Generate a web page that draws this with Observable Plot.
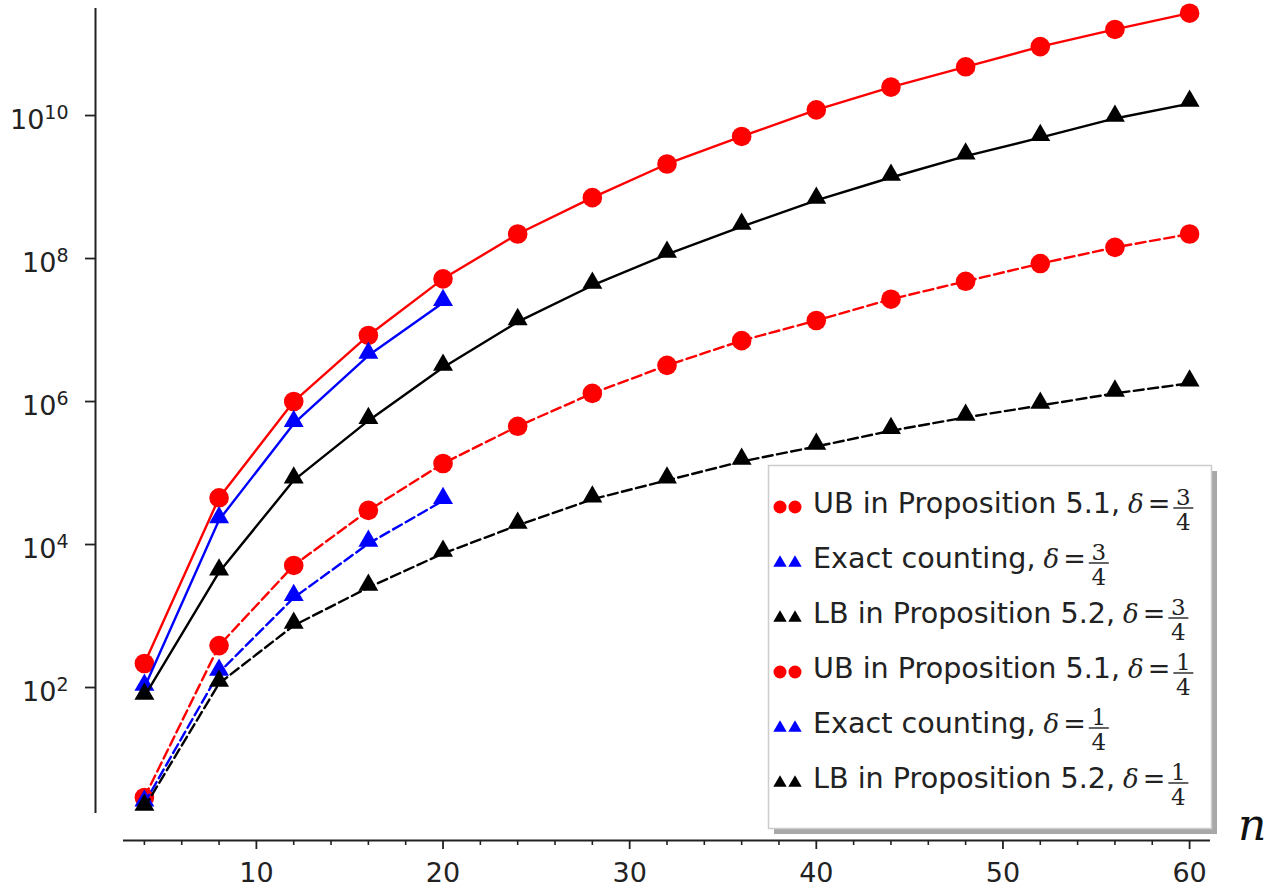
<!DOCTYPE html>
<html><head><meta charset="utf-8">
<script src="https://cdn.jsdelivr.net/npm/d3@7"></script>
<script src="https://cdn.jsdelivr.net/npm/@observablehq/plot@0.6"></script>
<style>
html,body{margin:0;padding:0;background:#fff;}
#chart{position:relative;width:1280px;height:890px;overflow:hidden;}
</style></head><body><div id="chart"></div>
<script>
// ---- data ----
const nAll = [4, 8, 12, 16, 20, 24, 28, 32, 36, 40, 44, 48, 52, 56, 60];
const nExact = [4, 8, 12, 16, 20];
const ubDelta34 = [217, 4.5e4, 1.0e6, 8.4e6, 5.2e7, 2.2e8, 7.1e8, 2.1e9, 5.1e9, 1.2e10, 2.5e10, 4.8e10, 9.2e10, 1.6e11, 2.7e11];
const exactDelta34 = [100, 2.2e4, 4.9e5, 4.4e6, 2.4e7];
const lbDelta34 = [75, 4.1e3, 7.9e4, 5.4e5, 3.0e6, 1.3e7, 4.2e7, 1.14e8, 2.8e8, 6.5e8, 1.36e9, 2.7e9, 4.9e9, 9.1e9, 1.47e10];
const ubDelta14 = [2.9, 386, 5.1e3, 3.0e4, 1.36e5, 4.5e5, 1.3e6, 3.2e6, 7.1e6, 1.36e7, 2.7e7, 4.8e7, 8.5e7, 1.43e8, 2.2e8];
const exactDelta14 = [2.4, 162, 1.8e3, 1.03e4, 4.1e4];
const lbDelta14 = [2.1, 114, 736, 2.5e3, 7.5e3, 1.85e4, 4.3e4, 7.9e4, 1.45e5, 2.35e5, 3.9e5, 6.0e5, 8.8e5, 1.3e6, 1.8e6];

const seriesLabels = ["UB in Proposition 5.1,", "Exact counting,", "LB in Proposition 5.2,",
                      "UB in Proposition 5.1,", "Exact counting,", "LB in Proposition 5.2,"];
const deltaNumerators = ["3", "3", "3", "1", "1", "1"];
const deltaDenominators = ["4", "4", "4", "4", "4", "4"];
const xMajorTicks = [10, 20, 30, 40, 50, 60];
const xMinorTicks = [4, 6, 8, 12, 14, 16, 18, 22, 24, 26, 28, 32, 34, 36, 38, 42, 44, 46, 48, 52, 54, 56, 58];
const yTicks = [1e2, 1e4, 1e6, 1e8, 1e10];

// ---- styles ----
const series = [
  {n: nAll,   v: ubDelta34,    color: "#ff0000", symbol: "circle",   dash: null},
  {n: nExact, v: exactDelta34, color: "#0000ff", symbol: "triangle", dash: null},
  {n: nAll,   v: lbDelta34,    color: "#000000", symbol: "triangle", dash: null},
  {n: nAll,   v: ubDelta14,    color: "#ff0000", symbol: "circle",   dash: "10,4.5"},
  {n: nExact, v: exactDelta14, color: "#0000ff", symbol: "triangle", dash: "10,4.5"},
  {n: nAll,   v: lbDelta14,    color: "#000000", symbol: "triangle", dash: "10,4.5"}
];

const marks = [];
series.forEach(s => {
  const rows = s.n.map((n, i) => ({n, v: s.v[i]}));
  marks.push(Plot.line(rows, {x: "n", y: "v", stroke: s.color, strokeWidth: 2.4,
    strokeDasharray: s.dash || undefined}));
  marks.push(Plot.dot(rows, {x: "n", y: "v", fill: s.color, stroke: "none",
    symbol: s.symbol, r: s.symbol === "circle" ? 9.8 : 7.4, dy: s.symbol === "circle" ? 0 : -2.5}));
});

const xDomain = [2.88, 61.12];
const yDomain = [1.73, 3.14e11];
const axisColor = "#222";

const svg = Plot.plot({
  width: 1280, height: 890,
  marginLeft: 123, marginRight: 70, marginTop: 8, marginBottom: 77,
  style: {fontFamily: "DejaVu Sans", fontSize: "27px", color: axisColor, background: "white", overflow: "visible"},
  x: {domain: xDomain, axis: null},
  y: {type: "log", domain: yDomain, axis: null},
  marks: [
    Plot.ruleY([yDomain[0]], {dy: 27, stroke: axisColor, strokeWidth: 2}),
    Plot.ruleX([xDomain[0]], {dx: -28, stroke: axisColor, strokeWidth: 2}),
    Plot.axisX({ticks: xMinorTicks, tickSize: 5, dy: 27, tickFormat: () => "", label: null, strokeWidth: 1.6}),
    Plot.axisX({ticks: xMajorTicks, tickSize: 9, tickPadding: 13, dy: 27, tickFormat: d => String(d), label: null, strokeWidth: 1.8, fontSize: 27}),
    Plot.axisY({ticks: yTicks, tickSize: 10, tickPadding: 17, dx: -28, tickFormat: d => "10^" + Math.round(Math.log10(d)), label: null, strokeWidth: 1.8, fontSize: 27}),
    ...marks
  ]
});
document.getElementById("chart").append(svg);

// superscript exponents on y tick labels
d3.select(svg).selectAll("text").each(function() {
  const t = this.textContent;
  if (t.includes("^")) {
    const [base, exp] = t.split("^");
    const sel = d3.select(this);
    sel.text(null);
    sel.append("tspan").attr("dy", 5).text(base);
    sel.append("tspan").attr("dy", -10).attr("font-size", 19).text(exp);
  }
});

const root = d3.select(svg);
// axis label n
root.append("text").attr("x", 1238).attr("y", 840).attr("text-anchor", "start")
  .attr("font-family", "DejaVu Serif").attr("font-style", "italic").attr("font-size", 44)
  .attr("fill", "#111").text("n");

// legend
const lg = root.append("g").attr("text-anchor", "start");
const bx = 768, by = 465, bw = 443, bh = 363;
lg.append("rect").attr("x", bx + 6).attr("y", by + 6).attr("width", bw).attr("height", bh).attr("fill", "#a8a8a8");
lg.append("rect").attr("x", bx + 0.5).attr("y", by + 0.5).attr("width", bw).attr("height", bh)
  .attr("fill", "white").attr("stroke", "#cccccc").attr("stroke-width", 1.5);
series.forEach((s, i) => {
  const base = 513 + i * 55;
  const my = base - 6;
  [780, 795].forEach(mx => {
    const sym = s.symbol === "circle" ? d3.symbolCircle : d3.symbolTriangle;
    const size = s.symbol === "circle" ? Math.PI * 6.5 * 6.5 : 78;
    lg.append("path").attr("d", d3.symbol(sym, size)())
      .attr("transform", `translate(${mx},${my + (s.symbol === "circle" ? 0 : 1)})`).attr("fill", s.color);
  });
  const tx = lg.append("text").attr("x", 813).attr("y", base).attr("text-anchor", "start")
    .attr("font-family", "DejaVu Sans").attr("font-size", 28.6).attr("fill", "#222").text(seriesLabels[i]);
  const w = tx.node().getComputedTextLength();
  const dx0 = 813 + w + 8;
  const dl = lg.append("text").attr("x", dx0).attr("y", base).attr("text-anchor", "start")
    .attr("font-family", "DejaVu Serif").attr("font-style", "italic").attr("font-size", 26).attr("fill", "#222").text("δ");
  const dw = dl.node().getComputedTextLength();
  const eq = lg.append("text").attr("x", dx0 + dw + 4).attr("y", base).attr("text-anchor", "start")
    .attr("font-family", "DejaVu Serif").attr("font-size", 27).attr("fill", "#222").text("=");
  const ew = eq.node().getComputedTextLength();
  const fx = dx0 + dw + 4 + ew + 3 + 10;
  const barY = base - 5;
  lg.append("line").attr("x1", fx - 10).attr("x2", fx + 10).attr("y1", barY).attr("y2", barY)
    .attr("stroke", "#222").attr("stroke-width", 1.4);
  lg.append("text").attr("x", fx).attr("y", barY - 3.5).attr("text-anchor", "middle")
    .attr("font-family", "DejaVu Serif").attr("font-size", 23).attr("fill", "#222").text(deltaNumerators[i]);
  lg.append("text").attr("x", fx).attr("y", barY + 21.5).attr("text-anchor", "middle")
    .attr("font-family", "DejaVu Serif").attr("font-size", 23).attr("fill", "#222").text(deltaDenominators[i]);
});
</script></body></html>
